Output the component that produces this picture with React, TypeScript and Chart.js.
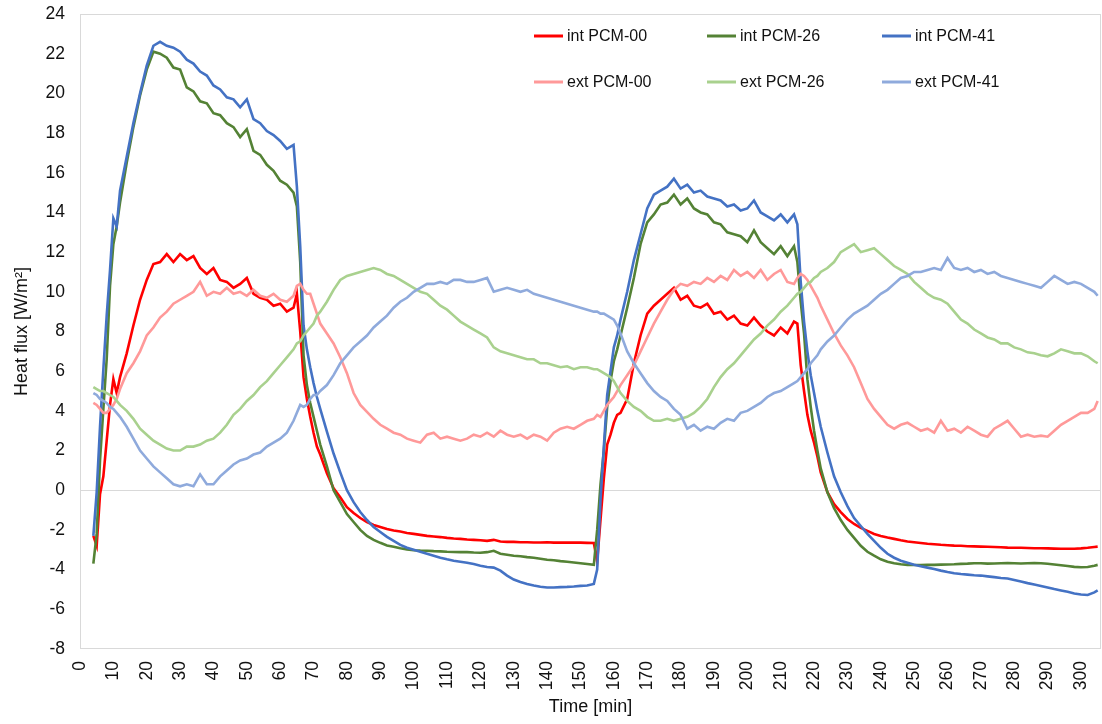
import React, { useEffect, useRef } from "react";
import { Chart, registerables } from "chart.js";

Chart.register(...registerables);

// Time [min]
const time = [
  4, 5, 6, 7, 8, 9, 10, 11, 12,
  14, 16, 18, 20, 22, 24, 26, 28, 30, 32, 34, 36, 38, 40, 42, 44, 46, 48, 50, 52, 54, 56, 58, 60, 62, 64,
  65, 66, 67, 68, 69, 70, 71, 72,
  74, 76, 78, 80, 82, 84, 86, 88, 90, 92, 94, 96, 98, 100, 102, 104, 106, 108, 110, 112, 114, 116, 118, 120,
  122, 124, 126, 128, 130, 132, 134, 136, 138, 140, 142, 144, 146, 148, 150, 152, 154,
  155, 156, 157, 158, 159, 160, 161, 162,
  164, 166, 168, 170, 172, 174, 176, 178, 180, 182, 184, 186, 188, 190, 192, 194, 196, 198, 200, 202, 204, 206, 208, 210, 212, 214,
  215, 216, 217, 218, 219, 220, 221, 222,
  224, 226, 228, 230, 232, 234, 236, 238, 240, 242, 244, 246, 248, 250, 252, 254, 256, 258, 260, 262, 264,
  266, 268, 270, 272, 274, 276, 278, 280, 282, 284, 286, 288, 290, 292, 294, 296, 298, 300, 302, 304,
  305,
];

const intPCM00 = [
  -2.3, -2.8, -0.2, 0.7, 2.5, 4.3, 5.6, 4.9, 5.7,
  6.9, 8.3, 9.6, 10.6, 11.4, 11.5, 11.9, 11.5, 11.9, 11.6, 11.8, 11.2, 10.9, 11.2, 10.6, 10.5, 10.2, 10.4, 10.7, 9.9, 9.7, 9.6, 9.3, 9.4, 9.0, 9.2,
  9.9, 8.0, 5.7, 4.6, 3.7, 2.9, 2.2, 1.8,
  0.85, 0.1, -0.35, -0.85, -1.15, -1.4, -1.6, -1.75, -1.85, -1.95, -2.03, -2.08, -2.15, -2.2, -2.25, -2.3, -2.33, -2.36, -2.4, -2.43, -2.45, -2.48, -2.5, -2.52,
  -2.55, -2.5, -2.58, -2.6, -2.6, -2.62, -2.62, -2.63, -2.63, -2.62, -2.64, -2.64, -2.63, -2.64, -2.64, -2.65, -2.66,
  -3.6, -1.5, 0.6, 2.3, 2.8, 3.4, 3.8, 3.9,
  4.6, 6.4, 7.8, 8.9, 9.3, 9.6, 9.9, 10.2, 9.6, 9.8, 9.3, 9.2, 9.4, 8.9, 9.0, 8.6, 8.8, 8.4, 8.3, 8.7, 8.3, 8.0, 7.8, 8.2, 7.9, 8.5,
  8.4, 6.3, 5.0, 3.8, 3.0, 2.4, 1.7, 0.9,
  -0.1, -0.7, -1.1, -1.45, -1.7, -1.9, -2.05, -2.2, -2.3, -2.38, -2.45, -2.52, -2.58, -2.62, -2.66, -2.7, -2.72, -2.75, -2.77, -2.79, -2.8,
  -2.82, -2.83, -2.84, -2.85, -2.86, -2.87, -2.89, -2.9, -2.9, -2.91, -2.92, -2.92, -2.93, -2.94, -2.95, -2.95, -2.95, -2.93, -2.9, -2.86,
  -2.84,
];

const intPCM26 = [
  -3.7, -2.2, 1.5, 4.1, 6.6, 10.3, 12.4, 13.3, 14.5,
  16.5, 18.3, 19.9, 21.2, 22.1, 22.0, 21.8, 21.3, 21.2, 20.3, 20.1, 19.6, 19.5, 19.0, 18.9, 18.5, 18.3, 17.8, 18.2, 17.1, 16.9, 16.4, 16.1, 15.6, 15.4, 15.0,
  14.3, 11.5, 6.8, 5.3, 4.4, 3.7, 3.0, 2.3,
  1.2, 0.0, -0.6, -1.2, -1.6, -2.0, -2.3, -2.5, -2.65, -2.78, -2.85, -2.92, -2.98, -3.02, -3.04, -3.05, -3.07, -3.08, -3.1, -3.11, -3.12, -3.12, -3.14, -3.15,
  -3.12, -3.05, -3.2, -3.25, -3.3, -3.33, -3.37, -3.4, -3.45, -3.5, -3.53, -3.57, -3.6, -3.64, -3.68, -3.72, -3.76,
  -2.0, 0.3, 2.0, 4.2, 5.5, 6.5, 7.1, 7.8,
  9.2, 10.7, 12.4, 13.5, 13.9, 14.4, 14.5, 14.9, 14.4, 14.7, 14.2, 14.0, 13.9, 13.5, 13.4, 13.0, 12.9, 12.8, 12.5, 13.1, 12.5, 12.2, 11.9, 12.3, 11.8, 12.3,
  11.5, 9.5, 7.9, 5.6, 4.2, 3.0, 2.0, 1.1,
  -0.1, -0.9, -1.5, -2.0, -2.4, -2.8, -3.1, -3.3, -3.48, -3.6, -3.68, -3.73, -3.76, -3.77, -3.77, -3.76, -3.76, -3.75, -3.74, -3.73, -3.71,
  -3.7, -3.68, -3.68, -3.7, -3.69, -3.68, -3.67, -3.68, -3.69, -3.68, -3.67, -3.68, -3.7, -3.74, -3.78, -3.82, -3.86, -3.88, -3.87, -3.8,
  -3.76,
];

const intPCM41 = [
  -2.3, -0.1, 3.2, 6.1, 8.8, 11.1, 13.7, 13.3, 15.1,
  16.8, 18.5, 20.0, 21.4, 22.4, 22.6, 22.4, 22.3, 22.1, 21.7, 21.5, 21.1, 20.9, 20.4, 20.2, 19.8, 19.7, 19.3, 19.7, 18.7, 18.5, 18.1, 17.9, 17.6, 17.2, 17.4,
  15.3, 12.3, 8.3, 7.1, 6.2, 5.4, 4.7, 4.1,
  2.95, 1.85, 0.9, 0.0, -0.6, -1.1, -1.5, -1.85, -2.1, -2.35, -2.55, -2.75, -2.9, -3.0, -3.1, -3.2, -3.3, -3.4, -3.48, -3.55, -3.6, -3.65, -3.72, -3.8,
  -3.87, -3.9, -4.05, -4.3, -4.5, -4.62, -4.72, -4.8, -4.86, -4.9, -4.9, -4.88, -4.87, -4.85, -4.82, -4.8, -4.72,
  -4.0, -0.5, 2.2, 4.8, 6.0, 7.2, 7.8, 8.6,
  10.0, 11.6, 12.9, 14.2, 14.9, 15.1, 15.3, 15.7, 15.2, 15.4, 15.0, 15.1, 14.8, 14.7, 14.6, 14.3, 14.4, 14.1, 14.2, 14.6, 14.0, 13.8, 13.6, 13.9, 13.5, 13.9,
  13.4, 10.5, 8.5, 7.0, 5.8, 4.9, 4.0, 3.2,
  1.9, 0.7, -0.1, -0.8, -1.4, -1.8, -2.2, -2.55, -2.9, -3.2, -3.4, -3.55, -3.65, -3.75, -3.83, -3.9, -3.97, -4.05, -4.12, -4.18, -4.22,
  -4.25, -4.28, -4.3, -4.34, -4.38, -4.42, -4.45, -4.52, -4.6, -4.68, -4.75, -4.82, -4.9, -4.98, -5.05, -5.12, -5.2, -5.25, -5.28, -5.15,
  -5.05,
];

const extPCM00 = [
  4.4, 4.3, 4.1, 3.9, 3.9, 4.1, 4.3, 4.6, 5.1,
  5.9, 6.4, 7.0, 7.8, 8.2, 8.7, 9.0, 9.4, 9.6, 9.8, 10.0, 10.5, 9.8, 10.0, 9.9, 10.2, 9.9, 10.0, 9.8, 10.1, 9.8, 9.7, 9.9, 9.6, 9.5, 9.8,
  10.3, 10.4, 10.1, 9.9, 9.9, 9.4, 8.9, 8.4,
  7.9, 7.4, 6.7, 5.9, 4.9, 4.3, 3.95, 3.6, 3.3, 3.1, 2.9, 2.8, 2.6, 2.5, 2.4, 2.8, 2.9, 2.6, 2.7, 2.6, 2.5, 2.6, 2.8, 2.7,
  2.9, 2.7, 3.0, 2.8, 2.7, 2.8, 2.6, 2.8, 2.7, 2.5, 2.9, 3.1, 3.2, 3.1, 3.3, 3.5, 3.6,
  3.8, 3.7, 4.0, 4.3, 4.5, 4.7, 5.0, 5.3,
  5.8, 6.3, 7.0, 7.7, 8.4, 9.0, 9.6, 10.1, 10.4, 10.3, 10.5, 10.4, 10.7, 10.5, 10.8, 10.6, 11.1, 10.8, 11.0, 10.7, 11.1, 10.6, 10.9, 11.1, 10.5, 10.4,
  10.7, 10.9, 10.8, 10.6, 10.3, 10.0, 9.7, 9.3,
  8.6, 7.9, 7.3, 6.8, 6.2, 5.4, 4.6, 4.1, 3.7, 3.3, 3.1, 3.3, 3.4, 3.2, 3.0, 3.1, 2.9, 3.5, 3.0, 3.1, 2.9,
  3.2, 3.0, 2.8, 2.7, 3.1, 3.3, 3.5, 3.1, 2.7, 2.8, 2.7, 2.75, 2.7, 3.0, 3.3, 3.5, 3.7, 3.9, 3.9, 4.1,
  4.5,
];

const extPCM26 = [
  5.2, 5.1, 5.0, 5.0, 4.9, 4.8, 4.7, 4.5, 4.3,
  4.0, 3.6, 3.1, 2.8, 2.5, 2.3, 2.1, 2.0, 2.0, 2.2, 2.2, 2.3, 2.5, 2.6, 2.9, 3.3, 3.8, 4.1, 4.5, 4.8, 5.2, 5.5, 5.9, 6.3, 6.7, 7.1,
  7.4, 7.5, 7.8, 8.0, 8.2, 8.4, 8.8, 9.0,
  9.5, 10.1, 10.6, 10.8, 10.9, 11.0, 11.1, 11.2, 11.1, 10.9, 10.8, 10.6, 10.4, 10.2, 10.0, 9.9, 9.6, 9.3, 9.1, 8.8, 8.5, 8.3, 8.1, 7.9,
  7.7, 7.2, 7.0, 6.9, 6.8, 6.7, 6.6, 6.6, 6.4, 6.4, 6.3, 6.2, 6.25, 6.1, 6.2, 6.2, 6.1,
  6.1, 6.0, 5.9, 5.8, 5.7, 5.5, 5.2, 4.9,
  4.5, 4.2, 4.0, 3.7, 3.5, 3.5, 3.6, 3.5, 3.6, 3.7, 3.9, 4.2, 4.6, 5.2, 5.7, 6.1, 6.4, 6.8, 7.2, 7.6, 7.9, 8.3, 8.6, 9.0, 9.3, 9.7,
  9.9, 10.0, 10.2, 10.4, 10.5, 10.7, 10.8, 11.0,
  11.2, 11.5, 12.0, 12.2, 12.4, 12.0, 12.1, 12.2, 11.9, 11.6, 11.3, 11.1, 10.9, 10.5, 10.2, 9.9, 9.7, 9.6, 9.4, 9.0, 8.6,
  8.4, 8.1, 7.9, 7.7, 7.6, 7.4, 7.4, 7.2, 7.1, 6.95, 6.9, 6.8, 6.75, 6.9, 7.1, 7.0, 6.9, 6.9, 6.75, 6.5,
  6.4,
];

const extPCM41 = [
  4.9, 4.8, 4.6, 4.5, 4.4, 4.2, 4.1, 3.9, 3.7,
  3.2, 2.6, 2.0, 1.6, 1.2, 0.9, 0.6, 0.3, 0.2, 0.3, 0.2, 0.8, 0.3, 0.3, 0.7, 1.0, 1.3, 1.5, 1.6, 1.8, 1.9, 2.2, 2.4, 2.6, 2.9, 3.5,
  3.9, 4.3, 4.2, 4.3, 4.6, 4.8, 4.8, 5.0,
  5.3, 5.8, 6.4, 6.8, 7.2, 7.5, 7.8, 8.2, 8.5, 8.8, 9.2, 9.5, 9.7, 10.0, 10.2, 10.4, 10.4, 10.5, 10.4, 10.6, 10.6, 10.5, 10.5, 10.6,
  10.7, 10.0, 10.1, 10.2, 10.1, 10.0, 10.1, 9.9, 9.8, 9.7, 9.6, 9.5, 9.4, 9.3, 9.2, 9.1, 9.0,
  9.0, 8.9, 8.9, 8.8, 8.7, 8.6, 8.3, 7.9,
  7.0, 6.4, 5.9, 5.4, 5.0, 4.7, 4.5, 4.1, 3.8, 3.1, 3.3, 3.0, 3.2, 3.1, 3.4, 3.6, 3.5, 3.9, 4.0, 4.2, 4.4, 4.7, 4.9, 5.0, 5.2, 5.4,
  5.5, 5.7, 5.9, 6.1, 6.4, 6.6, 6.8, 7.1,
  7.5, 7.8, 8.2, 8.6, 8.9, 9.1, 9.3, 9.6, 9.9, 10.1, 10.4, 10.7, 10.8, 11.0, 11.0, 11.1, 11.2, 11.1, 11.7, 11.2, 11.1,
  11.2, 11.0, 11.1, 10.9, 11.0, 10.8, 10.7, 10.6, 10.5, 10.4, 10.3, 10.2, 10.5, 10.8, 10.6, 10.4, 10.5, 10.4, 10.2, 10.0,
  9.8,
];

const seriesNames = ["int PCM-00", "int PCM-26", "int PCM-41", "ext PCM-00", "ext PCM-26", "ext PCM-41"];
const seriesColors = ["#FF0000", "#548235", "#4472C4", "#FF9999", "#A9D18E", "#8FAADC"];

const xTicks = [0, 10, 20, 30, 40, 50, 60, 70, 80, 90, 100, 110, 120, 130, 140, 150, 160, 170, 180, 190, 200, 210, 220, 230, 240, 250, 260, 270, 280, 290, 300];
const yTicks = [-8, -6, -4, -2, 0, 2, 4, 6, 8, 10, 12, 14, 16, 18, 20, 22, 24];

const FONT = '"Liberation Sans", Arial, sans-serif';

const framePlugin = {
  id: "frame",
  beforeDatasetsDraw(chart: any) {
    const { ctx, chartArea: a, scales } = chart;
    ctx.save();
    ctx.strokeStyle = "#D9D9D9";
    ctx.lineWidth = 1;
    ctx.strokeRect(a.left + 0.5, a.top + 0.5, a.right - a.left - 1, a.bottom - a.top - 1);
    const y0 = Math.round(scales.y.getPixelForValue(0)) + 0.5;
    ctx.beginPath();
    ctx.moveTo(a.left, y0);
    ctx.lineTo(a.right, y0);
    ctx.stroke();
    ctx.restore();
  },
};

const legendPlugin = {
  id: "gridLegend",
  afterDraw(chart: any) {
    const { ctx } = chart;
    const colX = [534, 707, 882];
    const rowY = [36, 82];
    ctx.save();
    ctx.font = `16px ${FONT}`;
    ctx.textBaseline = "middle";
    ctx.textAlign = "left";
    chart.data.datasets.forEach((ds: any, i: number) => {
      const x = colX[i % 3];
      const y = rowY[Math.floor(i / 3)];
      ctx.strokeStyle = ds.borderColor;
      ctx.lineWidth = 3;
      ctx.beginPath();
      ctx.moveTo(x, y);
      ctx.lineTo(x + 29, y);
      ctx.stroke();
      ctx.fillStyle = "#111";
      ctx.fillText(ds.label, x + 33, y + 1);
    });
    ctx.restore();
  },
};

const zeroPadding = (s: any) => {
  s.paddingTop = 0;
  s.paddingBottom = 0;
  s.paddingLeft = 0;
  s.paddingRight = 0;
};

export default function App() {
  const ref = useRef<HTMLCanvasElement>(null);

  useEffect(() => {
    if (!ref.current) return;
    const series = [intPCM00, intPCM26, intPCM41, extPCM00, extPCM26, extPCM41];
    const datasets = series.map((vals, i) => ({
      label: seriesNames[i],
      data: vals.map((v, j) => ({ x: time[j], y: v })),
      borderColor: seriesColors[i],
      backgroundColor: seriesColors[i],
      borderWidth: 2.6,
      pointRadius: 0,
      tension: 0,
      fill: false,
      order: 5 - i,
    }));

    const tickFont = { size: 17.5, family: FONT };
    const titleFont = { size: 18, family: FONT };

    const chart = new Chart(ref.current, {
      type: "line",
      data: { datasets },
      options: {
        animation: false,
        responsive: false,
        maintainAspectRatio: false,
        layout: { padding: { top: 14, right: 1, bottom: 0, left: 0 } },
        plugins: {
          legend: { display: false },
          tooltip: { enabled: false },
        },
        scales: {
          x: {
            type: "linear",
            min: 0,
            max: 306,
            afterBuildTicks: (s: any) => {
              s.ticks = xTicks.map((v) => ({ value: v }));
            },
            afterFit: (s: any) => {
              s.height = 75;
              zeroPadding(s);
            },
            grid: { display: false, drawTicks: false },
            border: { display: false },
            ticks: {
              autoSkip: false,
              minRotation: 90,
              maxRotation: 90,
              padding: 12,
              color: "#111",
              font: tickFont,
              callback: (v: any) => String(v),
            },
            title: {
              display: true,
              text: "Time [min]",
              color: "#111",
              font: titleFont,
              padding: { top: 0, bottom: 6 },
            },
          },
          y: {
            type: "linear",
            min: -8,
            max: 24,
            afterBuildTicks: (s: any) => {
              s.ticks = yTicks.map((v) => ({ value: v }));
            },
            afterFit: (s: any) => {
              s.width = 80;
              zeroPadding(s);
            },
            grid: { display: false, drawTicks: false },
            border: { display: false },
            ticks: {
              padding: 15,
              color: "#111",
              font: tickFont,
              callback: (v: any) => String(v),
            },
            title: {
              display: true,
              text: "Heat flux [W/m²]",
              color: "#111",
              font: titleFont,
              padding: { top: 11, bottom: 0 },
            },
          },
        },
      },
      plugins: [framePlugin, legendPlugin],
    });

    return () => chart.destroy();
  }, []);

  return (
    <div style={{ position: "absolute", left: 0, top: 0, width: 1102, height: 724, background: "#fff" }}>
      <canvas ref={ref} width={1102} height={724} style={{ display: "block" }} />
    </div>
  );
}
